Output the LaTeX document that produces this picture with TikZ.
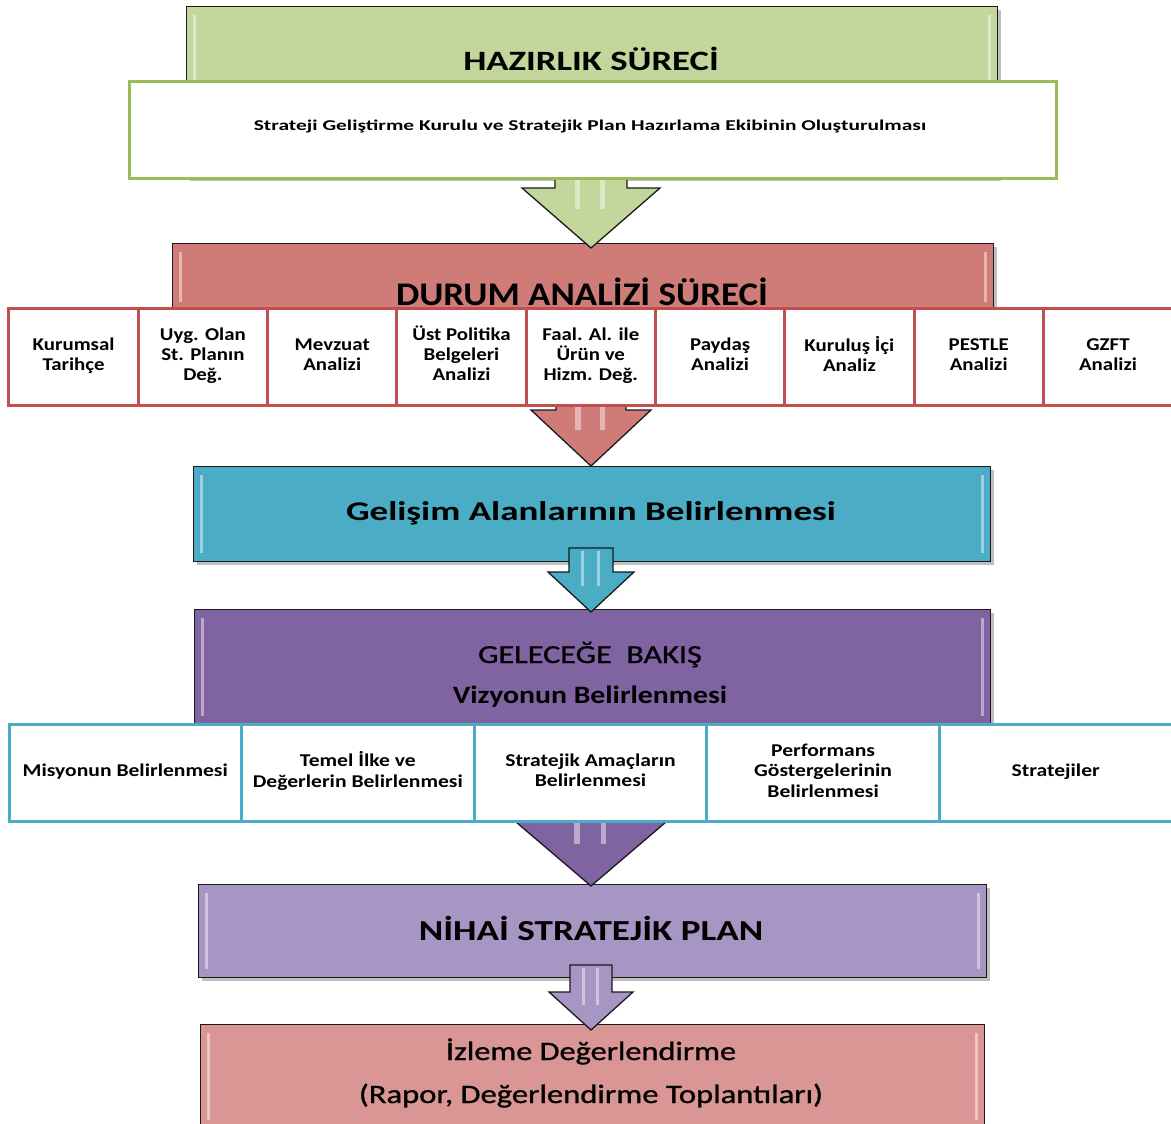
\documentclass[tikz,border=0pt]{standalone}
\usepackage{fontspec}
\setmainfont{Carlito}
\newfontface\medfont{Carlito}[FakeBold=0.9]
\usetikzlibrary{calc}
\definecolor{gfill}{HTML}{C3D69B}
\definecolor{gline}{HTML}{9BBB59}
\definecolor{rfill}{HTML}{CF7C79}
\definecolor{rline}{HTML}{C0504D}
\definecolor{bfill}{HTML}{4BACC6}
\definecolor{pfill}{HTML}{8064A2}
\definecolor{lfill}{HTML}{A795C3}
\definecolor{kfill}{HTML}{D99694}
\definecolor{edge}{HTML}{1A1A1A}
\newcommand{\cellx}[2]{\scalebox{#1}[1]{\begin{tabular}{@{}c@{}}#2\end{tabular}}}
\newcommand{\sx}[2]{\scalebox{#1}[1]{#2}}
\tikzset{
  stage/.style={draw=edge, line width=1.3pt, inner sep=0pt, anchor=north west},
  redcell/.style={draw=rline, fill=white, line width=3pt, minimum width=129.3pt, minimum height=97pt, align=center, inner sep=1pt, font=\fontsize{18}{20}\selectfont\bfseries},
  bluecell/.style={draw=bfill, fill=white, line width=3pt, minimum width=232.6pt, minimum height=97pt, align=center, inner sep=1pt, font=\fontsize{18}{20.5}\selectfont\bfseries},
  title/.style={anchor=base, inner sep=0pt},
  arrline/.style={draw=edge, line width=1.3pt, line join=miter},
  gloss/.style={fill=white, opacity=0.45},
}
% block arrow: #1 x centre, #2 top, #3 head top, #4 tip, #5 shaft half, #6 head half, #7 colour
\newcommand{\blockarr}[7]{%
  \filldraw[arrline, fill=#7] ({#1-#5},#2) -- ({#1+#5},#2) -- ({#1+#5},#3) -- ({#1+#6},#3) -- (#1,#4) -- ({#1-#6},#3) -- ({#1-#5},#3) -- cycle;
  \fill[gloss] ({#1-#5*0.45},{#2+3}) rectangle ({#1-#5*0.3},{#3+(#4-#3)*0.35});
  \fill[gloss] ({#1+#5*0.25},{#2+3}) rectangle ({#1+#5*0.4},{#3+(#4-#3)*0.35});
}
% inner bevel highlight for a named box
\newcommand{\bevel}[1]{%
  \fill[gloss] ($(#1.north west)+(7,9)$) rectangle ($(#1.south west)+(10,-9)$);
  \fill[gloss] ($(#1.north east)+(-10,9)$) rectangle ($(#1.south east)+(-7,-9)$);
}
\begin{document}
\begin{tikzpicture}[x=1pt,y=-1pt]
\useasboundingbox[fill=white] (0,0) rectangle (1171,1124);

% stage boxes (shadows first)
\fill[black,opacity=0.25] (190,10) rectangle (1001,181);
\node[stage, fill=gfill, minimum width=811pt, minimum height=171pt] (G) at (186,6) {};
\bevel{G}
\fill[black,opacity=0.25] (176,247) rectangle (997,314);
\node[stage, fill=rfill, minimum width=821pt, minimum height=67pt] (R) at (172,243) {};
\bevel{R}
\fill[black,opacity=0.25] (197,470) rectangle (994,565);
\node[stage, fill=bfill, minimum width=797pt, minimum height=95pt] (B) at (193,466) {};
\bevel{B}
\fill[black,opacity=0.25] (198,613) rectangle (994,728);
\node[stage, fill=pfill, minimum width=796pt, minimum height=115pt] (P) at (194,609) {};
\bevel{P}
\fill[black,opacity=0.25] (202,888) rectangle (990,981);
\node[stage, fill=lfill, minimum width=788pt, minimum height=93pt] (N) at (198,884) {};
\bevel{N}
\node[stage, fill=kfill, minimum width=784pt, minimum height=104pt] (I) at (200,1024) {};
\bevel{I}

% block arrows
\blockarr{591}{150}{188}{248}{36}{69}{gfill}
\blockarr{591}{380}{410}{466}{35}{60}{rfill}
\blockarr{591}{548}{572}{612}{22}{43}{bfill}
\blockarr{591}{790}{822}{886}{38}{75}{pfill}
\blockarr{591}{965}{992}{1030}{21}{42}{lfill}

% white box
\node[draw=gline, fill=white, line width=3pt, minimum width=927pt, minimum height=97pt, anchor=north west, inner sep=0pt] (W) at (128,80) {};

% red row
\node[redcell] (r1) at (73.6,356.5) {\cellx{1.16}{Kurumsal\\Tarihçe}};
\node[redcell] (r2) at (202.9,356.5) {\cellx{1.16}{Uyg. Olan\\St. Planın\\Değ.}};
\node[redcell] (r3) at (332.2,356.5) {\cellx{1.16}{Mevzuat\\Analizi}};
\node[redcell] (r4) at (461.5,356.5) {\cellx{1.16}{Üst Politika\\Belgeleri\\Analizi}};
\node[redcell] (r5) at (590.8,356.5) {\cellx{1.16}{Faal. Al. ile\\Ürün ve\\Hizm. Değ.}};
\node[redcell] (r6) at (720.1,356.5) {\cellx{1.16}{Paydaş\\Analizi}};
\node[redcell] (r7) at (849.4,356.5) {\cellx{1.16}{Kuruluş İçi\\Analiz}};
\node[redcell] (r8) at (978.7,356.5) {\cellx{1.16}{PESTLE\\Analizi}};
\node[redcell] (r9) at (1108.0,356.5) {\cellx{1.16}{GZFT\\Analizi}};

% blue row
\node[bluecell] (c1) at (125.3,772.5) {\cellx{1.2}{Misyonun Belirlenmesi}};
\node[bluecell] (c2) at (357.9,772.5) {\cellx{1.2}{Temel İlke ve\\Değerlerin Belirlenmesi}};
\node[bluecell] (c3) at (590.5,772.5) {\cellx{1.2}{Stratejik Amaçların\\Belirlenmesi}};
\node[bluecell] (c4) at (823.1,772.5) {\cellx{1.2}{Performans\\Göstergelerinin\\Belirlenmesi}};
\node[bluecell] (c5) at (1055.7,772.5) {\cellx{1.2}{Stratejiler}};

% titles
\node[title, font=\fontsize{28}{30}\selectfont\bfseries] (tG) at (591,71) {\sx{1.31}{HAZIRLIK SÜRECİ}};
\node[title, font=\fontsize{15}{18}\selectfont\bfseries] (tW) at (590,131) {\sx{1.43}{Strateji Geliştirme Kurulu ve Stratejik Plan Hazırlama Ekibinin Oluşturulması}};
\node[title, font=\fontsize{33}{35}\selectfont\bfseries] (tR) at (582,305) {\sx{1.12}{DURUM ANALİZİ SÜRECİ}};
\node[title, font=\fontsize{27}{30}\selectfont\bfseries] (tB) at (591,520) {\sx{1.37}{Gelişim Alanlarının Belirlenmesi}};
\node[title, font=\fontsize{26}{28}\medfont] (tP1) at (590,663) {\sx{1.24}{GELECEĞE\ \ BAKIŞ}};
\node[title, font=\fontsize{25}{27}\selectfont\bfseries] (tP2) at (590,703) {\sx{1.19}{Vizyonun Belirlenmesi}};
\node[title, font=\fontsize{29}{31}\selectfont\bfseries] (tN) at (591,940) {\sx{1.28}{NİHAİ STRATEJİK PLAN}};
\node[title, font=\fontsize{26.5}{29}\medfont] (tI1) at (591,1060) {\sx{1.22}{İzleme Değerlendirme}};
\node[title, font=\fontsize{26.5}{29}\medfont] (tI2) at (591,1103) {\sx{1.23}{(Rapor, Değerlendirme Toplantıları)}};
\end{tikzpicture}
\end{document}
